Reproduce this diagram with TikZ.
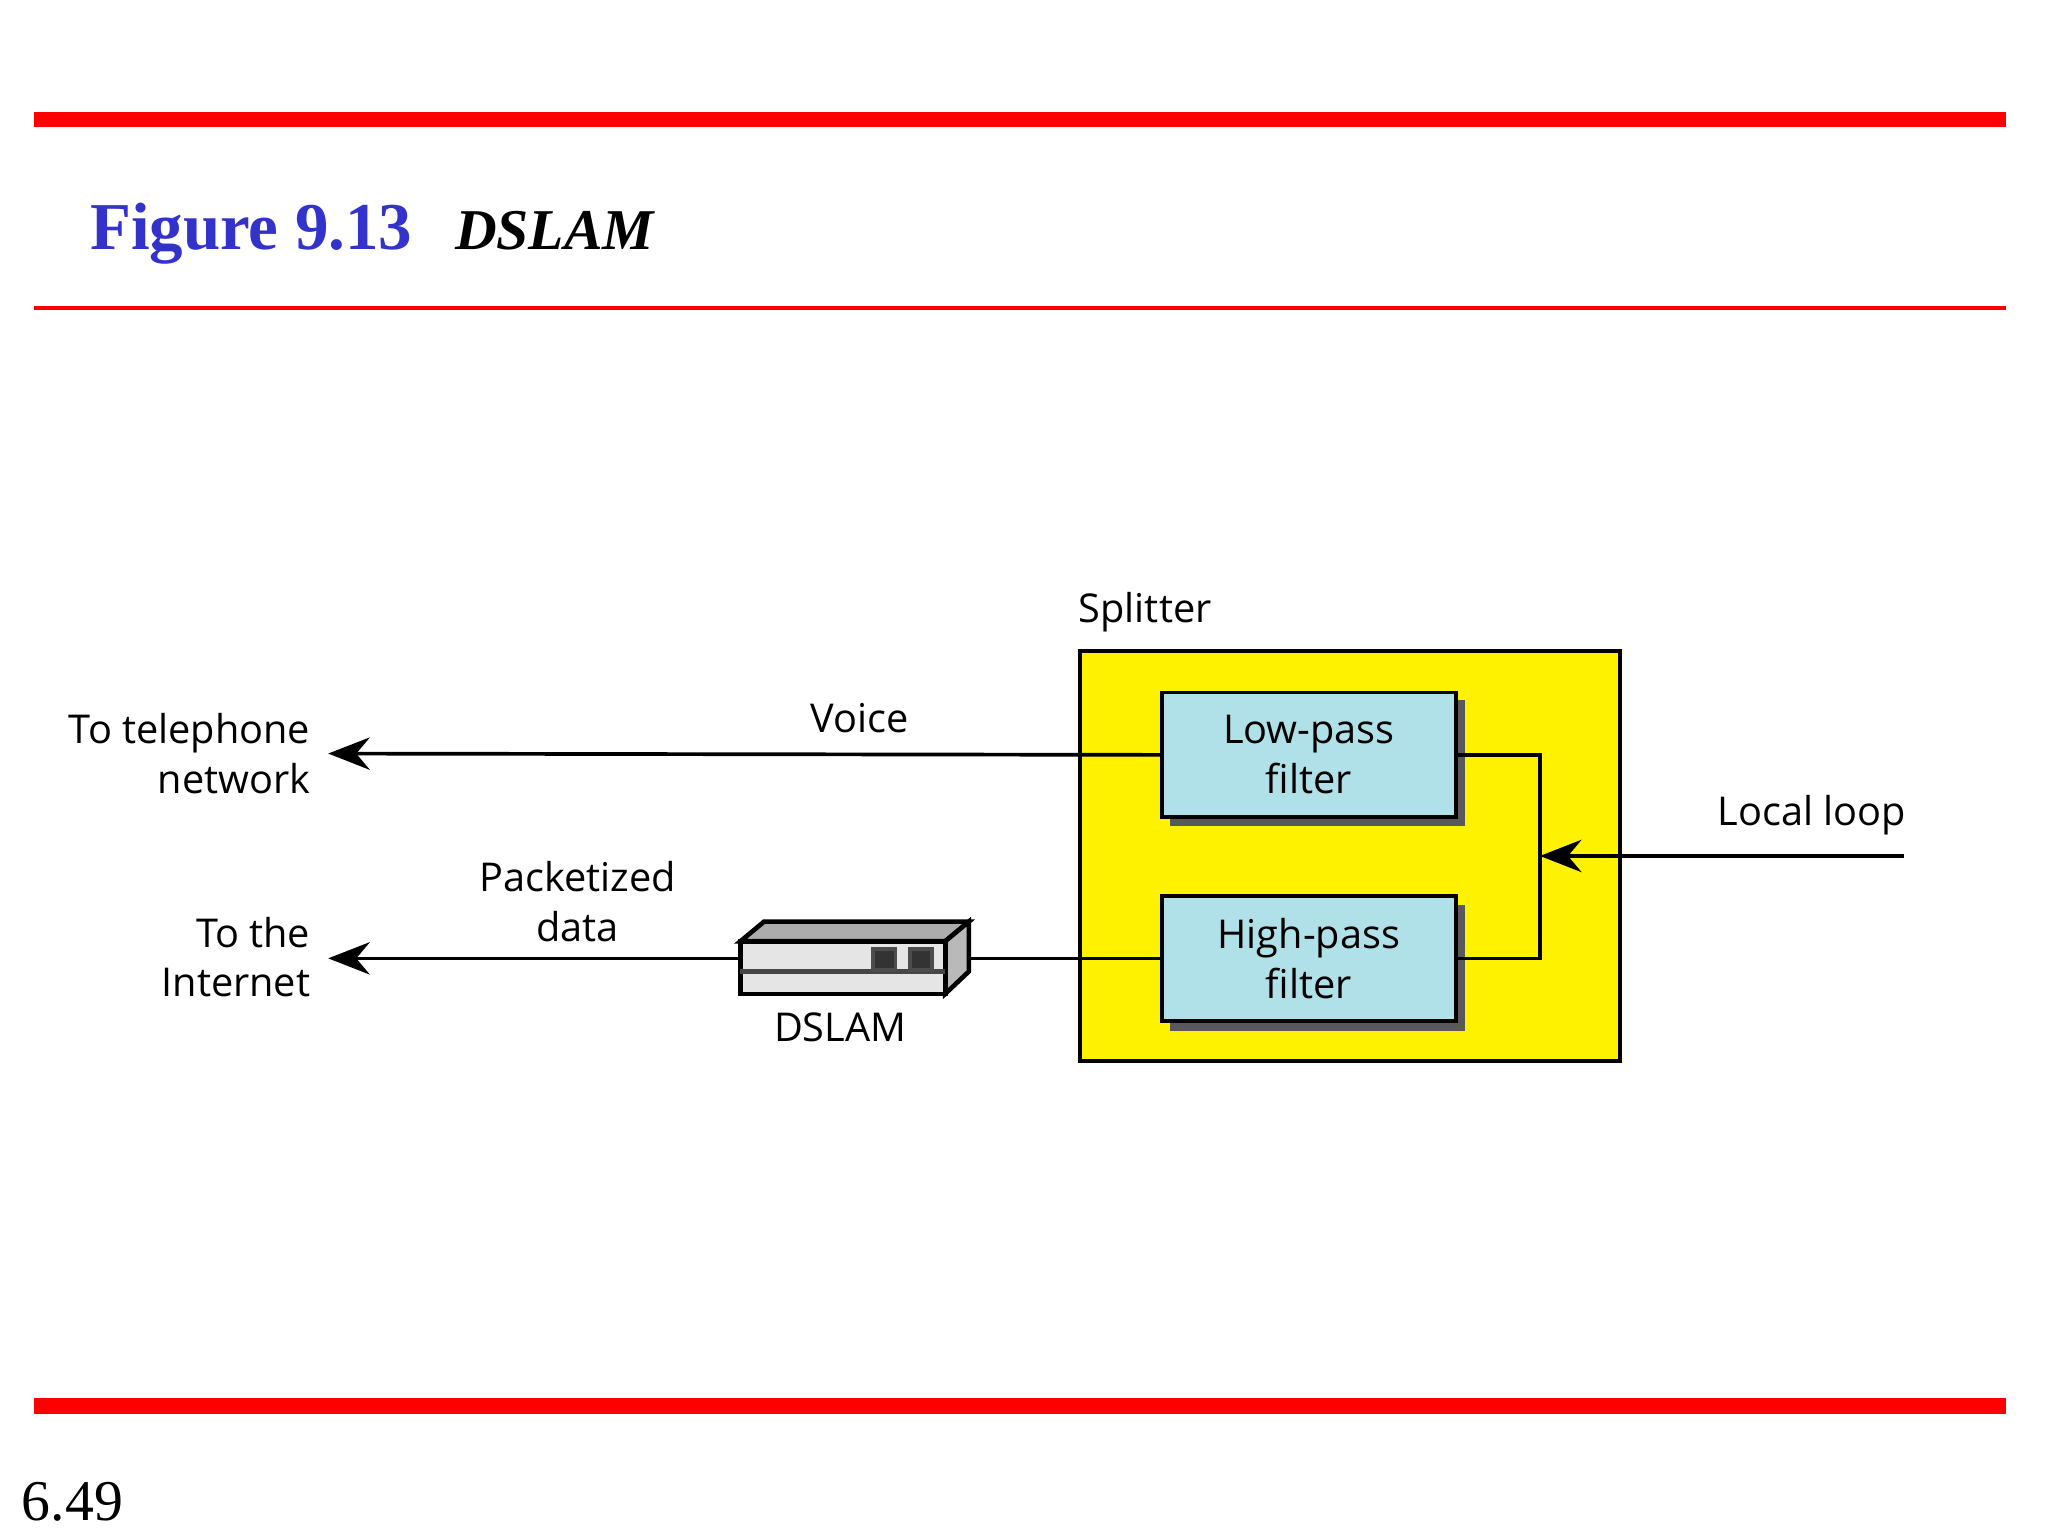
\documentclass[tikz,border=0pt]{standalone}
\usepackage{fontspec}
\setmainfont{Liberation Serif}
\newfontfamily\sans{Open Sans}
\usetikzlibrary{arrows.meta}
\begin{document}
\begin{tikzpicture}[x=0.01cm,y=-0.01cm,
  lbl/.style={font=\sans\fontsize{8.6}{10.8}\selectfont,inner sep=0,align=center},
  filt/.style={draw,line width=1.2pt,fill=cyan!25!white,minimum width=224\pgflinewidth,inner sep=0},
  wire/.style={line width=0.8pt},
  arr/.style={wire,-{Stealth[length=9pt,width=7pt]}}]
\useasboundingbox (0,0) rectangle (1560,1170);
\fill[red] (26,85) rectangle (1528,97);
\fill[red] (26,233) rectangle (1528,236);
\fill[red] (26,1065) rectangle (1528,1077);
\node[anchor=base west,inner sep=0,font=\fontsize{14.5}{16}\selectfont\bfseries,text={rgb,255:red,51;green,51;blue,204}] (title) at (68,190) {Figure 9.13};
\node[anchor=base west,inner sep=0,font=\fontsize{12.5}{14}\selectfont\bfseries\itshape] (sub) at (346,190) {DSLAM};
\node[anchor=base west,inner sep=0,font=\fontsize{12.5}{14}\selectfont] (pg) at (16,1158) {6.49};
% splitter
\node[draw,line width=0.8pt,fill=yellow,minimum width=4.11cm,minimum height=3.12cm,inner sep=0] (spl) at (1028.5,652) {};
\node[lbl,anchor=base west] (spllbl) at (821,474) {Splitter};
\fill[gray!70!black] (891,533) rectangle (1116,629);
\fill[gray!70!black] (891,689) rectangle (1116,785);
\node[draw,line width=0.8pt,fill={rgb,255:red,176;green,224;blue,232},minimum width=2.24cm,minimum height=0.95cm,inner sep=0,lbl] (lp) at (997,575) {Low-pass\\filter};
\node[draw,line width=0.8pt,fill={rgb,255:red,176;green,224;blue,232},minimum width=2.24cm,minimum height=0.95cm,inner sep=0,lbl] (hp) at (997,730) {High-pass\\filter};
\coordinate (j) at (1173,652);
\coordinate (ll) at (1450,652);
\draw[wire] (lp.east) -| (j) |- (hp.east);
\draw[arr] (ll) -- (j);
\node[lbl,anchor=base] (lll) at (1380,629) {Local loop};
% outputs
\node[lbl,align=right,anchor=east] (tel) at (237,574) {To telephone\\network};
\node[lbl,align=right,anchor=east] (inet) at (237,729) {To the\\Internet};
\coordinate (telp) at (250,574);
\coordinate (inetp) at (250,730);
\draw[arr] (lp.west) -- (telp);
\node[lbl,anchor=base] (voice) at (655,558) {Voice};
% DSLAM device
\coordinate (dl) at (564,730);
\coordinate (dr) at (730,730);
\draw[wire] (hp.west) -- (dr);
\draw[arr] (dl) -- (inetp);
\draw[line width=1pt,fill=gray!65] (564,717) -- (582,702) -- (738,702) -- (720,717) -- cycle;
\draw[line width=1pt,fill=gray!55] (720,717) -- (738,702) -- (738,740) -- (720,757) -- cycle;
\draw[line width=1pt,fill=gray!20] (564,717) rectangle (720,757);
\draw[line width=1pt,gray!55!black] (564,740) -- (720,740);
\draw[line width=0.8pt,gray!60!black,fill=gray!40!black] (665,723) rectangle (682,739);
\draw[line width=0.8pt,gray!60!black,fill=gray!40!black] (693,723) rectangle (710,739);
\node[lbl,anchor=base] (dslam) at (640,793) {DSLAM};
\node[lbl] (pd) at (440,687) {Packetized\\data};
\end{tikzpicture}
\end{document}
